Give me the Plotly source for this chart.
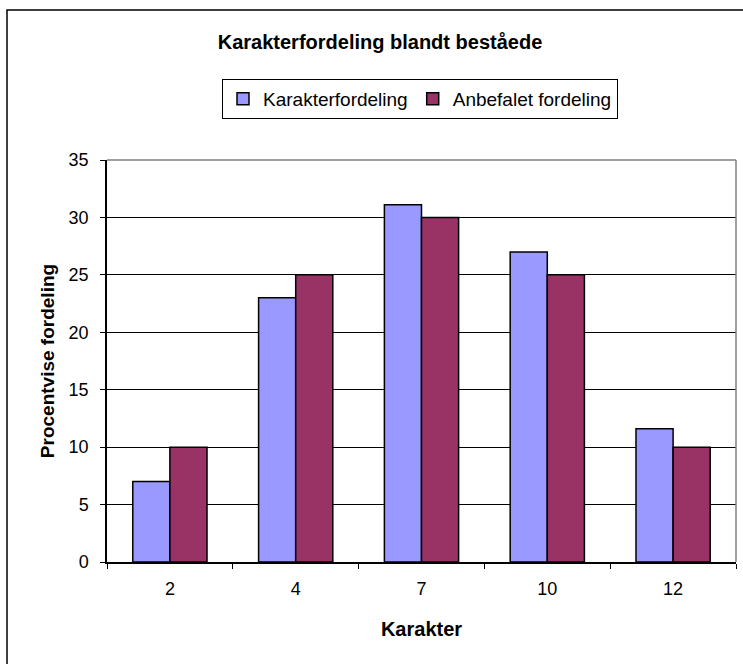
import plotly.graph_objects as go

categories = ["2", "4", "7", "10", "12"]
karakterfordeling = [7.0, 23.0, 31.1, 27.0, 11.6]
anbefalet = [10, 25, 30, 25, 10]
y_ticks = [0, 5, 10, 15, 20, 25, 30, 35]

FONT = "Liberation Sans, Arial, sans-serif"

fig = go.Figure()
fig.add_trace(go.Bar(name="Karakterfordeling", x=categories, y=karakterfordeling,
                     marker=dict(color="#9999FF", line=dict(color="black", width=1.5))))
fig.add_trace(go.Bar(name="Anbefalet fordeling", x=categories, y=anbefalet,
                     marker=dict(color="#993366", line=dict(color="black", width=1.5))))

fig.update_layout(
    width=743, height=664,
    margin=dict(l=107, r=7, t=160, b=102),
    paper_bgcolor="white", plot_bgcolor="white",
    font=dict(family=FONT, size=18, color="black"),
    barmode="group", bargap=0.41, bargroupgap=0,
    title=dict(text="<b>Karakterfordeling blandt beståede</b>", x=380 / 743, xref="container",
               xanchor="center", y=1 - 42 / 664, yanchor="middle",
               font=dict(family=FONT, size=20)),
    legend=dict(orientation="h", x=(420 - 107) / 629, xref="paper", xanchor="center",
                y=(562 - 99) / 402, yanchor="middle", yref="paper",
                bordercolor="black", borderwidth=1, bgcolor="white",
                font=dict(family=FONT, size=19), itemwidth=30, traceorder="normal"),
    showlegend=True,
)
fig.update_xaxes(showline=True, linecolor="black", linewidth=1.5, mirror=False,
                 ticks="outside", ticklen=5, tickcolor="black", tickson="boundaries",
                 ticklabelstandoff=10, showgrid=False,
                 title=dict(text="<b>Karakter</b>", standoff=24,
                            font=dict(family=FONT, size=20)))
fig.update_yaxes(range=[0, 35], tickvals=y_ticks, showline=True, linecolor="black",
                 linewidth=1.5, ticks="outside", ticklen=5, tickcolor="black",
                 ticklabelstandoff=8,
                 showgrid=True, gridcolor="black", gridwidth=1, zeroline=False,
                 title=dict(text="<b>Procentvise fordeling</b>", standoff=9,
                            font=dict(family=FONT, size=19)))

# right / top plot-area border (gray) and outer chart border
fig.add_shape(type="line", xref="paper", yref="paper", x0=1, x1=1, y0=0, y1=1,
              line=dict(color="#808080", width=1.5))
fig.add_shape(type="line", xref="paper", yref="paper", x0=0, x1=1, y0=1, y1=1,
              line=dict(color="#808080", width=1.5))
fig.add_shape(type="rect", xref="paper", yref="paper",
              x0=(7 - 107) / 629, x1=1.2, y0=-0.5, y1=(562 - 10) / 402,
              line=dict(color="black", width=1.5), layer="below")

fig.write_html("out.html", config={"displayModeBar": False},
               post_script="document.body.style.margin='0px';document.body.style.overflow='hidden';")
